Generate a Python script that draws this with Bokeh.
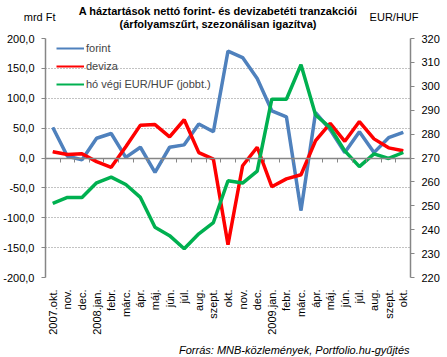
import numpy as np
from bokeh.plotting import figure
from bokeh.models import Range1d, LinearAxis, FixedTicker, Legend, LegendItem
from bokeh.core.properties import value
from bokeh.embed import file_html
from bokeh.resources import INLINE

months = ["2007.okt.", "nov.", "dec.", "2008.jan.", "febr.", "márc.", "ápr.", "máj.",
          "jún.", "júl.", "aug.", "szept.", "okt.", "nov.", "dec.", "2009.jan.", "febr.",
          "márc.", "ápr.", "máj.", "jún.", "júl.", "aug.", "szept.", "okt."]
forint = [51, 3, -3, 33, 41, 1, 18, -24, 18, 22, 57, 44, 179, 168, 133, 79, 69, -88,
          76, 47, 9, 44, 9, 34, 43]
deviza = [10.5, 6, 7, -6, -15.5, 19, 55, 56, 35.5, 64, 9, -2, -145, -13, 18, -48, -35,
          -28, 29, 58, 28, 61, 32, 17, 12]
eurhuf = [251, 253.5, 253.5, 259.6, 262, 258.9, 253.5, 241, 237.5, 232, 238.3, 243,
          260.5, 259.5, 264.5, 294.6, 294.6, 309, 288, 282.7, 273, 266.4, 271.7, 269.8, 272.3]
left_ticks = [-200, -150, -100, -50, 0, 50, 100, 150, 200]
right_ticks = [220, 230, 240, 250, 260, 270, 280, 290, 300, 310, 320]

title1 = "A háztartások nettó forint- és devizabetéti tranzakciói"
title2 = "(árfolyamszűrt, szezonálisan igazítva)"
left_unit = "mrd Ft"
right_unit = "EUR/HUF"
source = "Forrás: MNB-közlemények, Portfolio.hu-gyűjtés"
names = ["forint", "deviza", "hó végi EUR/HUF (jobbt.)"]
colors = ["#4F81BD", "#FF0000", "#00B050"]

FONT = "Liberation Sans"
GRAY = "#868686"
n = len(months)
x = [i + 0.5 for i in range(n)]
ytop, ybot = left_ticks[-1], left_ticks[0]

p = figure(width=447, height=357, output_backend="svg", toolbar_location=None,
           x_range=Range1d(0, n), y_range=Range1d(ybot, ytop),
           min_border_left=41, min_border_right=37, min_border_top=38, min_border_bottom=80)
p.extra_y_ranges = {"r": Range1d(right_ticks[0], right_ticks[-1])}
p.outline_line_color = None
p.background_fill_color = "white"
p.border_fill_color = "white"

# zero-line axis with ticks at category boundaries (no labels)
xa = p.xaxis[0]
xa.fixed_location = 0
xa.ticker = FixedTicker(ticks=list(range(n + 1)))
xa.axis_line_color = GRAY
xa.axis_line_width = 1.5
xa.major_tick_line_color = GRAY
xa.major_tick_in = 0
xa.major_tick_out = 4
xa.minor_tick_line_color = None
xa.major_label_text_color = None

# month label axis
la = LinearAxis(ticker=FixedTicker(ticks=x),
                major_label_overrides={xi: m for xi, m in zip(x, months)})
la.major_label_orientation = np.pi / 2
la.axis_line_color = None
la.major_tick_line_color = None
la.minor_tick_line_color = None
la.major_label_standoff = 6
la.major_label_text_font = FONT
la.major_label_text_font_size = "11px"
la.major_label_text_color = "black"
p.add_layout(la, "below")

ya = p.yaxis[0]
ya.ticker = FixedTicker(ticks=left_ticks)
ya.major_label_overrides = {v: f"{v:.1f}".replace(".", ",") for v in left_ticks}
ya.axis_line_color = GRAY
ya.axis_line_width = 1.5
ya.major_tick_line_color = GRAY
ya.major_tick_in = 0
ya.major_tick_out = 4
ya.minor_tick_line_color = None
ya.major_label_standoff = 7
ya.major_label_text_font = FONT
ya.major_label_text_font_size = "11px"
ya.major_label_text_color = "black"

ra = LinearAxis(y_range_name="r", ticker=FixedTicker(ticks=right_ticks))
ra.axis_line_color = GRAY
ra.axis_line_width = 1.5
ra.major_tick_line_color = GRAY
ra.major_tick_in = 0
ra.major_tick_out = 4
ra.minor_tick_line_color = None
ra.major_label_standoff = 7
ra.major_label_text_font = FONT
ra.major_label_text_font_size = "11px"
ra.major_label_text_color = "black"
p.add_layout(ra, "right")

p.xgrid.visible = False
p.ygrid.ticker = FixedTicker(ticks=left_ticks)
p.ygrid.grid_line_color = GRAY
p.ygrid.grid_line_dash = "1 2"
p.ygrid.grid_line_width = 1

# thin copies used for legend samples (hidden beneath the thick lines)
thin = [p.line(x, forint, line_color=colors[0], line_width=2),
        p.line(x, deviza, line_color=colors[1], line_width=2),
        p.line(x, eurhuf, line_color=colors[2], line_width=2, y_range_name="r")]

p.line(x, forint, line_color=colors[0], line_width=3.5)
p.line(x, deviza, line_color=colors[1], line_width=3.5)
p.line(x, eurhuf, line_color=colors[2], line_width=3.5, y_range_name="r")

items = [LegendItem(label=nm, renderers=[r]) for nm, r in zip(names, thin)]
leg = Legend(items=items, location=(11, 184), border_line_color=None,
             background_fill_alpha=0, label_text_font=FONT, label_text_font_size="11px",
             glyph_width=28, glyph_height=18, label_height=18, spacing=0, padding=0,
             margin=0, label_standoff=2)
p.add_layout(leg, "center")

def txt(text, xx, yy, dx, dy, align="center", style="normal", size="11px"):
    p.text(x=[xx], y=[yy], text=[text], x_offset=dx, y_offset=dy,
           text_align=align, text_baseline="middle", text_font=value(FONT),
           text_font_size=value(size), text_font_style=style, text_color="black",
           level="overlay")

txt(title1, n / 2, ytop, -10, -28, style="bold", size="11px")
txt(title2, n / 2, ytop, -10, -15, style="bold", size="11px")
txt(left_unit, 0, ytop, 10, -22, align="right")
txt(right_unit, n, ytop, 8, -22, align="right")
txt(source, n, ybot, -1, 72, align="right", style="italic", size="11px")

open("out.html", "w").write(file_html(p, INLINE))
